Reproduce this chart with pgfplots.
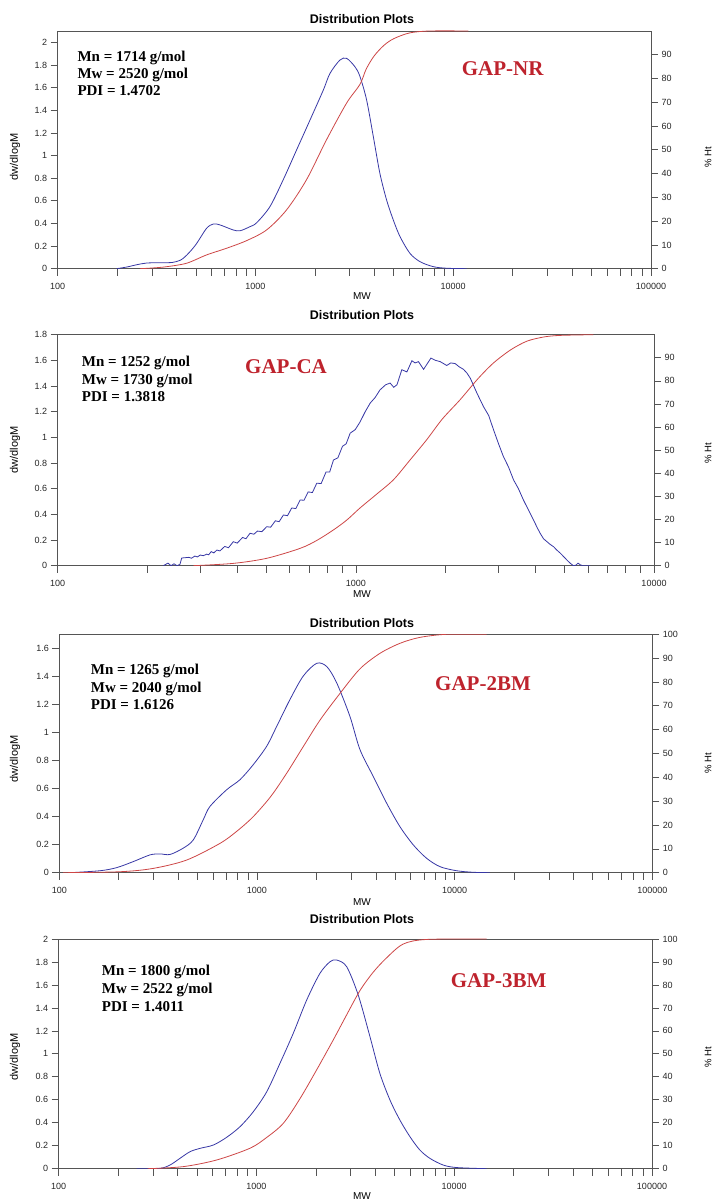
\documentclass[border=0pt]{standalone}
\usepackage{fontspec}
\setmainfont{Liberation Sans}
\newfontfamily\tnr{Liberation Serif}
\usepackage{pgfplots}
\pgfplotsset{compat=1.18}
\definecolor{cblue}{RGB}{55,55,165}
\definecolor{cred}{RGB}{205,70,70}
\definecolor{cgap}{RGB}{190,35,45}
\definecolor{caxis}{RGB}{85,85,85}
\pgfkeys{/pgf/number format/assume math mode=true}
\pgfplotsset{
  every axis/.append style={
    axis line style={caxis, line width=0.9pt},
    tick align=outside, major tick length=7pt, minor tick length=7pt,
    xticklabel shift=3.5pt,
    tick label style={font=\fontsize{9}{10}\selectfont, text=black!85}},
  every tick/.append style={caxis, line width=0.7pt},
}
\newcommand{\ann}[3]{\node[anchor=base west, inner sep=0, font=\tnr\bfseries\fontsize{15}{17}\selectfont] at (#1pt,#2pt) {#3};}
\begin{document}
\begin{tikzpicture}
\path[use as bounding box] (0pt,0pt) rectangle (718pt,1203pt);
% ---------------- Panel 1: GAP-NR
\begin{axis}[scale only axis, xmode=log, anchor=south west, xtick pos=bottom, ytick pos=left,
  at={(57.7pt,934.3pt)}, width=593.3pt, height=237.7pt,
  xmin=100, xmax=100000, ymin=0, ymax=2.1,
  xtick={100,1000,10000,100000}, xticklabels={100,1000,10000,100000},
  minor xtick={200,300,400,500,600,700,800,900,2000,3000,4000,5000,6000,7000,8000,9000,20000,30000,40000,50000,60000,70000,80000,90000},
  ytick={0,0.2,0.4,0.6,0.8,1,1.2,1.4,1.6,1.8,2}]
\addplot[cblue, line width=0.8pt, smooth] coordinates {(198.6,0) (223.9,0.015) (251.2,0.035) (281.8,0.05) (331,0.053) (380,0.055) (417,0.075) (440.6,0.106) (472,0.16) (504.7,0.224) (566.2,0.357) (612.4,0.395) (660.7,0.387) (772.7,0.342) (835.6,0.335) (937.6,0.371) (1014,0.406) (1183,0.548) (1380,0.784) (1614,1.049) (1888,1.314) (2203,1.578) (2382,1.726) (2673,1.843) (2891,1.858) (3184,1.784) (3373,1.70) (3648,1.49) (3945,1.166) (4256,0.843) (4603,0.607) (4977,0.43) (5383,0.283) (6039,0.136) (6792,0.062) (7925,0.018) (9268,0.004) (11695,0)};
\end{axis}
\begin{axis}[scale only axis, xmode=log, anchor=south west, axis x line=none, axis y line*=right,
  at={(57.7pt,934.3pt)}, width=593.3pt, height=237.7pt,
  xmin=100, xmax=100000, ymin=0, ymax=100, ytick={0,10,20,30,40,50,60,70,80,90}]
\addplot[cred, line width=0.8pt, smooth] coordinates {(260.6,0) (302,0.3) (355.6,0.84) (448.7,2.3) (566.2,5.8) (714.5,8.6) (901.6,11.8) (1138,16.3) (1435,24.7) (1811,37.4) (2286,54.2) (2891,69.7) (3373,77.5) (3631,84) (3981,89.5) (4467,94) (5012,96.8) (6026,99.2) (7621,100) (11912,100)};
\end{axis}
% ---------------- Panel 2: GAP-CA
\begin{axis}[scale only axis, xmode=log, anchor=south west, xtick pos=bottom, ytick pos=left,
  at={(57.7pt,637.3pt)}, width=596.3pt, height=231pt,
  xmin=100, xmax=10000, ymin=0, ymax=1.8,
  xtick={100,1000,10000}, xticklabels={100,1000,10000},
  minor xtick={200,300,400,500,600,700,800,900,2000,3000,4000,5000,6000,7000,8000,9000},
  ytick={0,0.2,0.4,0.6,0.8,1,1.2,1.4,1.6,1.8}]
\addplot[cblue, line width=0.8pt] coordinates {(226,0) (234.4,0.02) (239.9,0) (245.5,0.015) (251.2,0) (257,0.01) (260.6,0.06) (275.4,0.065) (281,0.058) (288.4,0.075) (294,0.068) (300.6,0.083) (308,0.078) (316.2,0.09) (321,0.085) (327.3,0.11) (334,0.1) (342,0.122) (350,0.115) (363.1,0.15) (374,0.14) (388.1,0.187) (400,0.176) (416.9,0.22) (428,0.21) (441.6,0.253) (455,0.245) (467.7,0.27) (484,0.265) (502.3,0.304) (518,0.3) (537,0.35) (553,0.343) (571.5,0.395) (590,0.39) (609.5,0.45) (629,0.445) (650.1,0.512) (670,0.51) (691.8,0.575) (715,0.57) (739.6,0.643) (765,0.64) (794.3,0.73) (817,0.73) (841.4,0.824) (870,0.84) (901.6,0.93) (928,0.95) (957.2,1.033) (995,1.06) (1033,1.12) (1075,1.2) (1117,1.267) (1160,1.31) (1205,1.37) (1259,1.41) (1303,1.423) (1340,1.39) (1374,1.41) (1426,1.527) (1483,1.51) (1542,1.597) (1580,1.58) (1622,1.59) (1687,1.53) (1786,1.618) (1850,1.6) (1919,1.59) (2018,1.56) (2080,1.58) (2153,1.575) (2220,1.55) (2296,1.53) (2360,1.5) (2421,1.46) (2547,1.345) (2679,1.24) (2790,1.17) (2897,1.058) (3010,0.95) (3126,0.85) (3250,0.77) (3381,0.668) (3510,0.6) (3648,0.512) (3800,0.43) (3945,0.356) (4050,0.3) (4150,0.253) (4260,0.21) (4375,0.187) (4490,0.165) (4603,0.148) (4730,0.12) (4853,0.097) (4980,0.07) (5105,0.044) (5230,0.02) (5370,0) (5480,0.005) (5559,0.02) (5650,0.008) (5754,0) (6109,0)};
\end{axis}
\begin{axis}[scale only axis, xmode=log, anchor=south west, axis x line=none, axis y line*=right,
  at={(57.7pt,637.3pt)}, width=596.3pt, height=231pt,
  xmin=100, xmax=10000, ymin=0, ymax=100, ytick={0,10,20,30,40,50,60,70,80,90}]
\addplot[cred, line width=0.8pt, smooth] coordinates {(285.1,0) (388.1,1) (502.3,3.2) (650.1,7.5) (741,11) (841.4,15.5) (933,19.8) (1033,25) (1175,31) (1337,37.2) (1514,45.5) (1730,54.6) (1950,63.5) (2239,71.9) (2570,81) (2897,87.8) (3311,93.5) (3750,97.2) (4266,99) (4853,99.7) (6266,100)};
\end{axis}
% ---------------- Panel 3: GAP-2BM
\begin{axis}[scale only axis, xmode=log, anchor=south west, xtick pos=bottom, ytick pos=left,
  at={(59.3pt,330.3pt)}, width=593pt, height=238.4pt,
  xmin=100, xmax=100000, ymin=0, ymax=1.7,
  xtick={100,1000,10000,100000}, xticklabels={100,1000,10000,100000},
  minor xtick={200,300,400,500,600,700,800,900,2000,3000,4000,5000,6000,7000,8000,9000,20000,30000,40000,50000,60000,70000,80000,90000},
  ytick={0,0.2,0.4,0.6,0.8,1,1.2,1.4,1.6}]
\addplot[cblue, line width=0.8pt, smooth] coordinates {(113.2,0) (160.7,0.014) (195,0.036) (236.6,0.079) (287.7,0.127) (322.8,0.134) (363.1,0.13) (423.6,0.175) (476.4,0.234) (534.6,0.377) (578.1,0.472) (703.1,0.592) (820.4,0.663) (957.2,0.77) (1119,0.901) (1259,1.044) (1469,1.235) (1714,1.402) (2004,1.493) (2254,1.47) (2529,1.355) (2951,1.116) (3319,0.878) (3873,0.687) (4529,0.496) (5284,0.329) (6180,0.198) (7211,0.103) (8433,0.043) (10233,0.014) (12417,0.003) (15066,0)};
\end{axis}
\begin{axis}[scale only axis, xmode=log, anchor=south west, axis x line=none, axis y line*=right,
  at={(59.3pt,330.3pt)}, width=593pt, height=238.4pt,
  xmin=100, xmax=100000, ymin=0, ymax=100, ytick={0,10,20,30,40,50,60,70,80,90,100}]
\addplot[cred, line width=0.8pt, smooth] coordinates {(104.7,0) (202.8,0.4) (298.5,1.8) (440.6,5.3) (650.1,12.3) (794,17.5) (957.2,23.5) (1175,32) (1413,41.7) (1718,53) (2084,64) (2630,75.2) (3319,85.5) (4188,92) (5284,96.2) (6668,98.7) (9120,100) (14521,100)};
\end{axis}
% ---------------- Panel 4: GAP-3BM
\begin{axis}[scale only axis, xmode=log, anchor=south west, xtick pos=bottom, ytick pos=left,
  at={(58.7pt,34.3pt)}, width=593.3pt, height=229.7pt,
  xmin=100, xmax=100000, ymin=0, ymax=2,
  xtick={100,1000,10000,100000}, xticklabels={100,1000,10000,100000},
  minor xtick={200,300,400,500,600,700,800,900,2000,3000,4000,5000,6000,7000,8000,9000,20000,30000,40000,50000,60000,70000,80000,90000},
  ytick={0,0.2,0.4,0.6,0.8,1,1.2,1.4,1.6,1.8,2}]
\addplot[cblue, line width=0.8pt, smooth] coordinates {(247.7,0) (325.1,0.003) (365.6,0.032) (410.2,0.09) (461.3,0.148) (517.6,0.177) (605.3,0.206) (706.3,0.273) (826,0.366) (963.8,0.496) (1127,0.67) (1315,0.918) (1535,1.179) (1795,1.469) (2094,1.701) (2355,1.802) (2541,1.817) (2858,1.759) (3273,1.51) (3750,1.149) (4207,0.83) (4732,0.598) (5309,0.424) (5970,0.279) (6699,0.163) (7534,0.09) (8790,0.032) (10280,0.01) (14588,0)};
\end{axis}
\begin{axis}[scale only axis, xmode=log, anchor=south west, axis x line=none, axis y line*=right,
  at={(58.7pt,34.3pt)}, width=593.3pt, height=229.7pt,
  xmin=100, xmax=100000, ymin=0, ymax=100, ytick={0,10,20,30,40,50,60,70,80,90,100}]
\addplot[cred, line width=0.8pt, smooth] coordinates {(281.8,0) (426.6,0.9) (629.5,3.8) (926.8,8.9) (1122,13.5) (1368,19.8) (1660,30.5) (2014,43) (2443,56) (2818,66) (3334,77.5) (3890,85.5) (4550,91.8) (5521,97.8) (7244,99.8) (14588,100)};
\end{axis}
% ---------------- Texts
\foreach \yy in {1179,883,575.7,279.7}{
  \node[anchor=base, inner sep=0, font=\bfseries\fontsize{12.5}{14}\selectfont] at (362pt,\yy pt) {Distribution Plots};}
\foreach \yy in {903.5,605,297.3,3.5}{
  \node[anchor=base, inner sep=0, font=\fontsize{10}{11}\selectfont] at (362pt,\yy pt) {MW};}
\foreach \yy in {1046,753,444,146}{
  \node[rotate=90, inner sep=0, font=\fontsize{11}{12}\selectfont] at (15pt,\yy pt) {dw/dlogM};}
\foreach \yy in {1046,750,440,146}{
  \node[rotate=90, inner sep=0, font=\fontsize{9.5}{11}\selectfont] at (708pt,\yy pt) {\% Ht};}
\ann{77.3}{1141.3}{Mn = 1714 g/mol}
\ann{77.3}{1124.7}{Mw = 2520 g/mol}
\ann{77.3}{1107}{PDI = 1.4702}
\ann{81.7}{836.3}{Mn = 1252 g/mol}
\ann{81.7}{818}{Mw = 1730 g/mol}
\ann{81.7}{801.3}{PDI = 1.3818}
\ann{90.7}{528.7}{Mn = 1265 g/mol}
\ann{90.7}{510.7}{Mw = 2040 g/mol}
\ann{90.7}{493.7}{PDI = 1.6126}
\ann{101.7}{227}{Mn = 1800 g/mol}
\ann{101.7}{209}{Mw = 2522 g/mol}
\ann{101.7}{191.3}{PDI = 1.4011}
\node[anchor=base west, inner sep=0, text=cgap, font=\tnr\bfseries\fontsize{21}{24}\selectfont] at (461.7pt,1127pt) {GAP-NR};
\node[anchor=base west, inner sep=0, text=cgap, font=\tnr\bfseries\fontsize{21}{24}\selectfont] at (245pt,829pt) {GAP-CA};
\node[anchor=base west, inner sep=0, text=cgap, font=\tnr\bfseries\fontsize{21}{24}\selectfont] at (435pt,512pt) {GAP-2BM};
\node[anchor=base west, inner sep=0, text=cgap, font=\tnr\bfseries\fontsize{21}{24}\selectfont] at (450.7pt,215.7pt) {GAP-3BM};
\end{tikzpicture}
\end{document}
